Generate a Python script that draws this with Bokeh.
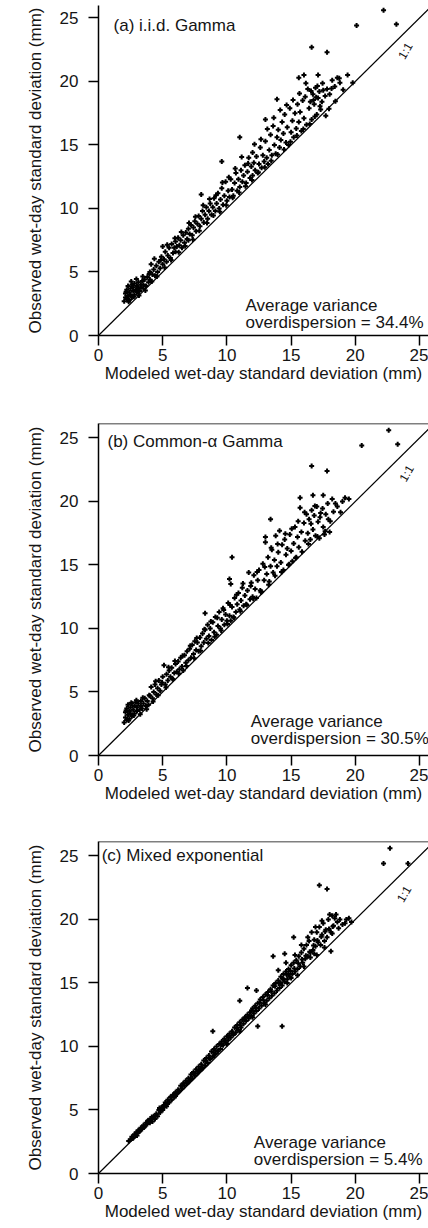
from bokeh.plotting import figure
from bokeh.models import Range1d, Slope, Label, Span
from bokeh.layouts import column
from bokeh.embed import file_html
from bokeh.resources import INLINE

# ---------------- data ----------------
tick_values = [0, 5, 10, 15, 20, 25]
x_title = "Modeled wet-day standard deviation (mm)"
y_title = "Observed wet-day standard deviation (mm)"
panel_titles = ["(a)  i.i.d. Gamma", "(b)  Common-\u03b1 Gamma", "(c)  Mixed exponential"]
overdispersion = ["34.4%", "30.5%", "5.4%"]

a_pts = [(2.0,2.7),(2.1,3.0),(2.1,3.3),(2.2,2.9),(2.2,3.6),(2.3,3.1),(2.3,3.9),(2.4,2.8),(2.4,3.4),(2.5,3.2),(2.5,3.7),(2.6,3.0),(2.6,4.0),(2.7,3.5),(2.7,3.8),(2.8,3.2),(2.8,4.1),(2.9,3.6),(3.0,3.4),(3.0,3.9),(3.1,4.2),(3.1,3.7),(3.2,3.5),(3.3,4.0),(3.3,3.8),(3.4,4.3),(3.5,3.7),(3.5,4.0),(3.6,4.4),(3.7,3.9),(3.8,4.6),(3.9,4.2),(4.0,5.0),(4.0,4.4),(4.1,5.6),(4.2,4.8),(4.3,5.2),(4.4,4.7),(4.5,5.5),(4.6,5.0),(4.7,5.8),(4.8,5.3),(4.9,6.2),(5.0,5.6),(5.0,7.0),(5.1,6.0),(5.2,6.6),(5.3,5.8),(5.4,6.3),(5.5,6.9),(5.6,6.1),(5.7,7.2),(5.8,6.5),(5.9,6.9),(6.0,7.4),(6.0,6.6),(6.1,7.0),(6.2,7.7),(6.3,7.1),(6.4,7.5),(6.5,6.9),(6.6,7.9),(6.7,7.3),(6.8,8.1),(6.9,7.6),(7.0,8.4),(7.0,7.5),(7.1,8.0),(7.2,8.7),(7.3,7.9),(7.4,8.5),(7.5,9.0),(7.6,8.2),(7.7,8.8),(7.8,9.4),(7.9,8.6),(8.0,9.2),(8.0,11.1),(8.1,9.8),(8.2,8.9),(8.3,9.5),(8.4,10.1),(8.5,9.2),(8.6,9.8),(8.7,10.4),(8.8,9.5),(8.9,10.1),(9.0,10.8),(9.1,9.8),(9.2,10.4),(9.3,11.2),(9.4,10.0),(9.5,10.7),(9.6,13.7),(9.6,11.6),(9.7,10.3),(9.8,11.0),(9.9,12.1),(10.0,10.6),(10.1,11.4),(10.2,10.9),(10.3,12.3),(10.4,11.5),(10.5,11.0),(10.6,12.0),(10.7,12.8),(10.8,11.4),(10.9,12.3),(11.0,15.6),(11.0,11.7),(11.1,13.0),(11.2,12.1),(11.3,12.6),(11.4,13.4),(11.5,12.0),(11.6,12.9),(11.7,14.0),(11.8,12.4),(11.9,13.3),(12.0,14.4),(12.0,12.6),(12.1,13.6),(12.2,13.0),(12.3,14.1),(12.4,12.8),(12.5,13.5),(12.6,14.8),(12.7,13.2),(12.8,14.2),(12.9,13.7),(13.0,15.3),(13.0,17.0),(13.1,14.0),(13.2,13.5),(13.3,14.6),(13.4,15.8),(13.5,14.2),(13.6,16.5),(13.7,15.0),(13.8,14.3),(13.9,18.6),(13.9,15.6),(14.0,16.2),(14.1,14.8),(14.2,15.4),(14.3,16.8),(14.4,15.9),(14.5,17.4),(14.6,15.2),(14.7,16.4),(14.8,15.0),(14.9,17.9),(15.0,16.0),(15.1,16.9),(15.2,15.6),(15.3,17.5),(15.4,16.3),(15.5,18.2),(15.6,20.3),(15.6,16.8),(15.7,17.6),(15.8,16.1),(15.9,18.5),(16.0,20.5),(16.0,17.1),(16.1,18.8),(16.2,16.6),(16.3,19.4),(16.4,17.9),(16.5,18.4),(16.6,22.7),(16.6,17.0),(16.7,19.0),(16.8,18.2),(16.9,19.5),(17.0,17.4),(17.1,20.5),(17.1,18.7),(17.2,19.2),(17.3,17.8),(17.4,18.4),(17.5,19.3),(17.7,17.3),(17.8,22.3),(17.8,19.4),(18.0,19.0),(18.2,20.1),(18.4,19.6),(18.6,20.3),(18.8,19.9),(19.4,20.5),(19.8,19.9),(20.1,24.4),(22.2,25.6),(23.2,24.5),
         (2.15,3.45),(2.35,2.65),(2.55,4.25),(2.75,3.05),(2.95,4.45),(3.15,3.15),(3.45,4.65),(3.65,3.55),(3.95,4.85),(4.15,4.25),(4.35,6.05),(4.55,4.65),(4.85,5.95),(5.15,5.35),(5.35,7.15),(5.65,5.95),(5.95,7.65),(6.25,6.55),(6.45,8.15),(6.75,7.05),(7.05,8.85),(7.35,7.55),(7.55,9.35),(7.85,8.25),(8.15,10.25),(8.45,8.85),(8.65,10.75),(8.95,9.45),(9.15,11.05),(9.45,9.75),(9.65,12.05),(9.95,10.25),(10.15,12.45),(10.45,10.85),(10.65,13.15),(10.95,11.25),(11.15,14.05),(11.45,11.75),(11.65,13.55),(11.95,12.25),(12.15,15.05),(12.45,12.85),(12.65,15.45),(12.95,13.25),(13.15,16.25),(13.45,13.75),(13.65,17.15),(13.95,14.25),(14.15,17.75),(14.45,14.65),(14.65,18.15),(14.95,15.25),(15.15,18.55),(15.45,15.75),(15.65,19.05),(15.95,16.25),(16.15,19.85),(16.45,16.65),(16.55,19.25),(16.75,18.55),(16.85,17.25),(16.95,18.75),(17.05,19.65),(17.25,18.05),(17.45,19.85),(17.65,18.85),(17.95,17.85),(18.15,19.45),(18.45,18.45),(18.75,20.25),(19.05,19.35)]

b_pts = [(2.0,2.6),(2.1,3.0),(2.1,3.4),(2.2,2.8),(2.2,3.7),(2.3,3.2),(2.3,4.0),(2.4,2.9),(2.4,3.5),(2.5,3.3),(2.5,3.8),(2.6,3.1),(2.6,4.1),(2.7,3.6),(2.8,3.9),(2.8,3.3),(2.9,4.2),(3.0,3.5),(3.0,3.8),(3.1,4.1),(3.2,3.6),(3.3,3.9),(3.3,4.3),(3.4,3.7),(3.5,4.1),(3.6,4.5),(3.7,3.9),(3.8,4.3),(3.9,4.0),(4.0,4.7),(4.1,5.4),(4.2,4.5),(4.3,5.0),(4.4,5.6),(4.5,4.8),(4.6,5.3),(4.7,5.9),(4.8,5.1),(4.9,5.6),(5.0,6.2),(5.1,7.1),(5.2,5.6),(5.3,6.4),(5.4,5.9),(5.5,6.7),(5.6,6.2),(5.7,6.9),(5.8,6.0),(5.9,6.5),(6.0,7.2),(6.1,6.6),(6.2,7.4),(6.3,6.8),(6.4,7.7),(6.5,7.0),(6.6,6.7),(6.7,7.9),(6.8,7.3),(6.9,8.2),(7.0,7.5),(7.1,8.4),(7.2,7.7),(7.3,8.7),(7.4,8.0),(7.5,9.0),(7.6,8.3),(7.7,8.9),(7.8,8.2),(7.9,9.3),(8.0,8.6),(8.1,9.6),(8.2,8.9),(8.3,11.2),(8.3,9.9),(8.4,9.2),(8.5,10.3),(8.6,9.4),(8.7,10.0),(8.8,9.1),(8.9,10.5),(9.0,9.7),(9.1,10.9),(9.2,9.5),(9.3,10.2),(9.4,11.3),(9.5,10.0),(9.6,10.7),(9.7,11.6),(9.8,10.3),(9.9,11.1),(10.0,10.6),(10.1,12.0),(10.2,13.9),(10.2,11.0),(10.3,13.5),(10.3,10.6),(10.4,15.6),(10.4,11.7),(10.5,10.9),(10.6,12.4),(10.7,11.3),(10.8,11.9),(10.9,12.8),(11.0,11.5),(11.1,12.2),(11.2,13.2),(11.3,11.8),(11.4,12.6),(11.5,11.9),(11.6,13.0),(11.7,14.4),(11.8,12.3),(11.9,13.6),(12.0,12.5),(12.1,14.2),(12.2,13.1),(12.3,12.4),(12.4,13.8),(12.5,14.6),(12.6,13.0),(12.7,12.9),(12.8,15.1),(12.9,13.8),(13.0,17.2),(13.0,16.8),(13.1,14.3),(13.2,15.6),(13.3,13.7),(13.4,18.6),(13.4,14.9),(13.5,16.2),(13.6,14.4),(13.7,15.4),(13.8,17.3),(13.9,14.9),(14.0,16.0),(14.1,17.7),(14.2,15.2),(14.3,16.6),(14.4,14.6),(14.5,17.0),(14.6,15.8),(14.7,16.3),(14.8,15.0),(14.9,17.4),(15.0,16.1),(15.1,15.3),(15.2,16.7),(15.3,18.0),(15.4,15.6),(15.5,17.2),(15.6,16.4),(15.7,20.3),(15.7,19.5),(15.8,17.6),(16.0,18.3),(16.1,16.9),(16.2,19.0),(16.3,17.5),(16.4,18.6),(16.5,17.0),(16.6,22.8),(16.6,19.3),(16.7,20.5),(16.7,17.8),(16.8,18.9),(16.9,17.3),(17.0,19.6),(17.1,18.4),(17.2,17.1),(17.3,19.1),(17.5,20.5),(17.5,18.0),(17.6,17.4),(17.7,19.0),(17.8,22.4),(17.9,18.6),(18.0,17.6),(18.2,20.2),(18.3,19.2),(18.6,19.6),(19.0,20.0),(19.2,20.3),(19.5,20.2),(20.5,24.4),(22.6,25.6),(23.3,24.5),
         (2.15,3.55),(2.35,2.75),(2.55,4.15),(2.75,3.15),(2.95,4.35),(3.25,3.25),(3.45,4.55),(3.75,3.65),(3.95,4.75),(4.25,4.25),(4.45,5.85),(4.65,4.75),(4.95,5.75),(5.25,5.35),(5.45,6.95),(5.75,6.05),(5.95,7.45),(6.25,6.45),(6.55,7.85),(6.85,7.05),(7.15,8.65),(7.45,7.65),(7.65,9.25),(7.95,8.25),(8.25,9.95),(8.55,8.85),(8.75,10.55),(9.05,9.35),(9.25,10.85),(9.55,9.85),(9.75,11.45),(10.05,10.35),(10.25,11.85),(10.55,10.85),(10.75,12.65),(11.05,11.35),(11.25,13.55),(11.55,11.85),(11.85,13.35),(12.05,12.35),(12.35,14.45),(12.65,12.85),(12.95,14.85),(13.25,13.45),(13.45,16.35),(13.75,14.15),(13.95,16.65),(14.25,14.45),(14.55,17.45),(14.85,15.05),(15.05,17.85),(15.35,15.55),(15.55,18.45),(15.85,16.05),(16.05,19.15),(16.35,16.65),(16.55,18.25),(16.85,19.65),(17.05,17.25),(17.25,18.75),(17.45,19.45),(17.65,17.65),(17.85,19.85),(18.05,18.45),(18.45,19.85),(18.85,19.15)]

c_pts = [(2.5,2.7),(2.6,2.9),(2.7,2.8),(2.8,3.1),(2.9,3.0),(3.0,3.2),(3.1,3.4),(3.2,3.3),(3.3,3.6),(3.4,3.5),(3.5,3.8),(3.6,3.7),(3.7,4.0),(3.8,3.9),(3.9,4.2),(4.0,4.0),(4.1,4.3),(4.2,4.1),(4.3,4.5),(4.4,4.3),(4.5,4.7),(4.6,4.5),(4.7,5.0),(4.8,4.8),(4.9,5.2),(5.0,5.0),(5.1,5.4),(5.2,5.6),(5.3,5.3),(5.4,5.8),(5.5,5.6),(5.6,6.0),(5.7,5.8),(5.8,6.2),(5.9,6.0),(6.0,6.4),(6.1,6.3),(6.2,6.6),(6.3,6.5),(6.4,6.9),(6.5,6.7),(6.6,7.1),(6.7,6.9),(6.8,7.3),(6.9,7.1),(7.0,7.5),(7.1,7.3),(7.2,7.8),(7.3,7.5),(7.4,8.0),(7.5,7.7),(7.6,8.2),(7.7,7.9),(7.8,8.4),(7.9,8.1),(8.0,8.6),(8.1,8.3),(8.2,8.9),(8.3,8.5),(8.4,9.1),(8.5,8.7),(8.6,9.3),(8.7,9.0),(8.8,9.6),(8.9,11.2),(8.9,9.2),(9.0,9.8),(9.1,9.4),(9.2,10.0),(9.3,9.6),(9.4,10.2),(9.5,9.8),(9.6,10.4),(9.7,10.1),(9.8,10.6),(9.9,10.3),(10.0,10.8),(10.1,10.5),(10.2,11.0),(10.3,10.7),(10.4,11.2),(10.5,10.9),(10.6,11.5),(10.7,11.1),(10.8,11.7),(10.9,11.3),(11.0,13.6),(11.0,11.9),(11.1,11.5),(11.2,12.1),(11.3,11.8),(11.4,12.3),(11.5,12.0),(11.6,14.6),(11.6,12.5),(11.7,12.2),(11.8,12.7),(11.9,12.4),(12.0,13.0),(12.1,12.6),(12.2,13.2),(12.3,14.4),(12.3,12.8),(12.4,11.6),(12.4,13.4),(12.5,13.0),(12.6,13.7),(12.7,13.2),(12.8,13.9),(12.9,13.4),(13.0,14.1),(13.1,13.6),(13.2,14.3),(13.3,13.8),(13.4,14.5),(13.5,14.0),(13.6,17.1),(13.6,14.8),(13.7,14.2),(13.8,15.0),(13.9,14.4),(14.0,15.2),(14.1,14.6),(14.2,15.5),(14.3,11.6),(14.3,14.8),(14.4,15.7),(14.5,17.3),(14.5,15.1),(14.6,15.9),(14.7,15.3),(14.8,16.1),(14.9,15.5),(15.0,16.4),(15.1,15.7),(15.2,18.6),(15.2,16.6),(15.3,15.9),(15.4,16.8),(15.5,16.1),(15.6,17.1),(15.7,16.3),(15.8,17.4),(15.9,16.6),(16.0,17.7),(16.1,16.9),(16.2,18.0),(16.3,17.1),(16.4,18.3),(16.5,17.4),(16.6,19.0),(16.7,17.6),(16.8,18.4),(16.9,17.9),(17.0,19.0),(17.1,18.2),(17.2,22.7),(17.2,19.4),(17.3,18.0),(17.4,18.8),(17.5,19.7),(17.6,18.3),(17.7,19.2),(17.8,22.4),(17.8,18.6),(17.9,20.0),(18.0,20.4),(18.1,17.5),(18.1,19.0),(18.3,19.5),(18.4,20.1),(18.6,19.8),(18.8,20.0),(19.0,19.6),(19.3,20.0),(19.7,19.8),(22.2,24.4),(22.7,25.6),(24.1,24.4),
         (2.35,2.55),(2.65,2.75),(2.95,3.25),(3.25,3.45),(3.55,3.65),(3.85,4.15),(4.15,4.45),(4.45,4.55),(4.75,5.15),(5.05,5.25),(5.35,5.55),(5.65,6.05),(5.95,6.25),(6.25,6.45),(6.55,6.95),(6.85,7.15),(7.15,7.45),(7.45,7.85),(7.75,8.05),(8.05,8.35),(8.35,8.85),(8.65,9.05),(8.95,9.55),(9.25,9.65),(9.55,10.15),(9.85,10.45),(10.15,10.75),(10.45,11.05),(10.75,11.45),(11.05,11.65),(11.35,12.15),(11.65,12.35),(11.95,12.85),(12.25,13.05),(12.55,13.45),(12.85,13.65),(13.15,14.05),(13.45,14.35),(13.75,14.75),(14.05,14.95),(14.35,15.35),(14.65,15.65),(14.95,15.95),(15.25,16.15),(15.55,16.55),(15.85,16.85),(16.15,17.15),(16.45,17.45),(16.75,17.95),(17.05,18.35),(17.35,18.65),(17.65,19.05),(17.95,19.25),(18.25,19.45),(16.5,17.0),(15.0,15.4),(14.2,15.0),(14.8,15.7),(17.0,17.2),(17.6,17.8),(18.2,18.9),(18.7,19.3),(13.0,13.3),(12.0,12.3),(11.0,11.2),(10.0,10.2),(9.0,9.3),(8.0,8.2),(7.0,7.2),(6.0,6.1),(5.0,5.1),(4.0,4.2),(3.0,3.0),
         (14.0,16.0),(14.6,16.6),(15.3,17.2),(15.8,18.0),(16.3,18.6),(16.9,19.4),(17.4,19.9),(18.2,20.3),(18.5,20.4),(19.2,19.7),(19.5,20.1),(16.0,16.3),(15.5,15.6),(16.8,17.3),(14.4,15.3),(14.7,15.0)]

panels = [a_pts, b_pts, c_pts]

# ---------------- layout / style ----------------
FONT = "Liberation Sans"
TXT = "#151515"
FS = "17px"
heights = [405, 420, 403]
top_borders = [5, 18, 16]
bottom_borders = [70, 70, 55]
y_ends = [25.98, 26.14, 26.14]
title_pos = [(1.17, 24.4), (0.7, 24.7), (0.25, 25.0)]
note_pos = [(11.45, 2.36), (11.85, 2.68), (12.1, 2.42)]
one_pos = [(23.9, 22.4), (24.0, 22.2), (23.8, 22.0)]

figs = []
for i, pts in enumerate(panels):
    p = figure(width=428, height=heights[i], output_backend="svg", toolbar_location=None,
               x_range=Range1d(0, 25.7), y_range=Range1d(0, y_ends[i]),
               min_border_left=98, min_border_right=0,
               min_border_top=top_borders[i], min_border_bottom=bottom_borders[i])
    p.outline_line_color = None
    p.xgrid.visible = False
    p.ygrid.visible = False
    p.background_fill_color = "white"
    p.border_fill_color = "white"

    for ax in (p.xaxis[0], p.yaxis[0]):
        ax.ticker = tick_values
        ax.axis_line_width = 1.5
        ax.axis_line_color = "black"
        ax.major_tick_line_width = 1.5
        ax.major_tick_out = 10
        ax.major_tick_in = 0
        ax.minor_tick_out = 0
        ax.minor_tick_in = 0
        ax.major_label_text_font = FONT
        ax.major_label_text_font_size = FS
        ax.major_label_text_color = TXT
        ax.axis_label_text_font = FONT
        ax.axis_label_text_font_size = FS
        ax.axis_label_text_font_style = "normal"
        ax.axis_label_text_color = TXT
    p.xaxis.axis_label = x_title
    p.yaxis.axis_label = y_title
    p.xaxis.major_label_standoff = 3
    p.xaxis.axis_label_standoff = 0
    p.yaxis.major_label_standoff = 10
    p.yaxis.axis_label_standoff = 12

    if i > 0:
        p.add_layout(Span(location=y_ends[i], dimension="width", line_color="black", line_width=1.5))

    p.add_layout(Slope(gradient=1, y_intercept=0, line_color="black", line_width=1.2))

    xs = [q[0] for q in pts]
    ys = [q[1] for q in pts]
    p.scatter(xs, ys, marker="cross", size=5, line_width=2, color="black")

    p.add_layout(Label(x=title_pos[i][0], y=title_pos[i][1], text=panel_titles[i],
                       text_font=FONT, text_font_size=FS, text_baseline="middle",
                       text_color=TXT))
    p.add_layout(Label(x=note_pos[i][0], y=note_pos[i][1], text="Average variance",
                       text_font=FONT, text_font_size=FS, text_baseline="middle",
                       text_color=TXT))
    p.add_layout(Label(x=note_pos[i][0], y=note_pos[i][1] - 1.33,
                       text="overdispersion = " + overdispersion[i],
                       text_font=FONT, text_font_size=FS, text_baseline="middle",
                       text_color=TXT))
    p.add_layout(Label(x=one_pos[i][0], y=one_pos[i][1], text="1:1", angle=1.05,
                       text_font=FONT, text_font_size="12px", text_baseline="middle",
                       text_align="center", text_color=TXT))
    figs.append(p)

layout = column(*figs, spacing=0)
open("out.html", "w").write(file_html(layout, INLINE))
